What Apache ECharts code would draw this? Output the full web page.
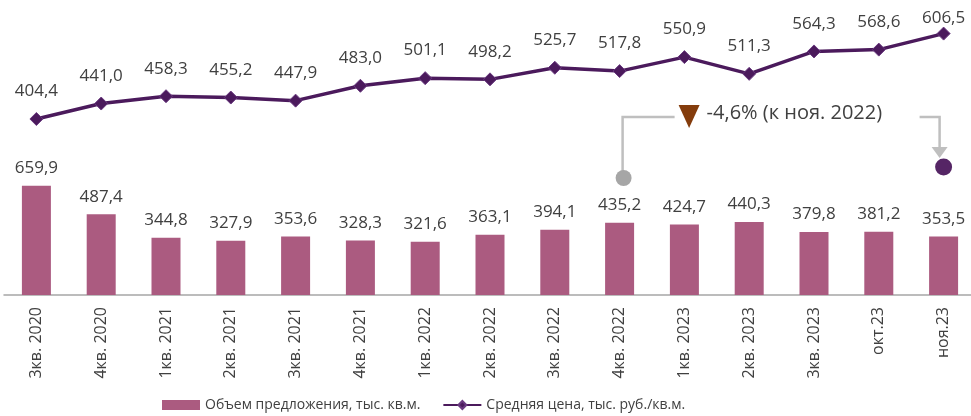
<!DOCTYPE html>
<html>
<head>
<meta charset="utf-8">
<script src="https://cdn.jsdelivr.net/npm/echarts@6/dist/echarts.min.js"></script>
<style>
  html, body { margin: 0; padding: 0; background: #ffffff; }
  #main { width: 971px; height: 416px; }
</style>
</head>
<body>
<div id="main"></div>
<script>
// категории
var categories = ['3кв. 2020', '4кв. 2020', '1кв. 2021', '2кв. 2021', '3кв. 2021', '4кв. 2021',
  '1кв. 2022', '2кв. 2022', '3кв. 2022', '4кв. 2022', '1кв. 2023', '2кв. 2023', '3кв. 2023', 'окт.23', 'ноя.23'];
// объем предложения, тыс. кв.м.
var supply = [659.9, 487.4, 344.8, 327.9, 353.6, 328.3, 321.6, 363.1, 394.1, 435.2, 424.7, 440.3, 379.8, 381.2, 353.5];
// средняя цена, тыс. руб./кв.м.
var price = [404.4, 441.0, 458.3, 455.2, 447.9, 483.0, 501.1, 498.2, 525.7, 517.8, 550.9, 511.3, 564.3, 568.6, 606.5];
var changeText = '-4,6% (к ноя. 2022)';
var fromIndex = 9;  // 4кв. 2022
var toIndex = 14;   // ноя.23

var fmt = function (p) {
  return p.value.toFixed(1).replace('.', ',');
};

// последняя точка - подпись ближе к маркеру, чтобы не обрезалась
var priceData = price.map(function (v, i) {
  if (i == price.length - 1) {
    return { value: v, label: { distance: 0 } };
  }
  return v;
});

var chart = echarts.init(document.getElementById('main'), null, { renderer: 'canvas' });

var option = {
  backgroundColor: '#ffffff',
  animation: false,
  textStyle: { fontFamily: 'Open Sans' },
  grid: {
    left: 4,
    top: 0,
    width: 972,
    height: 295,
    outerBoundsMode: 'none'
  },
  legend: {
    top: 393,
    left: 157,
    itemGap: 22,
    textStyle: { fontSize: 14, color: '#404040', fontFamily: 'Open Sans' },
    data: [
      { name: 'Объем предложения, тыс. кв.м.', icon: 'rect', itemStyle: { color: '#AB5B80' } },
      { name: 'Средняя цена, тыс. руб./кв.м.' }
    ],
    itemWidth: 38,
    itemHeight: 10
  },
  xAxis: {
    type: 'category',
    data: categories,
    axisLine: { lineStyle: { color: '#A6A6A6', width: 1.5 } },
    axisTick: { show: false },
    axisLabel: {
      rotate: 90,
      interval: 0,
      fontSize: 16,
      color: '#404040',
      margin: 12
    }
  },
  yAxis: [
    { type: 'value', min: 0, max: 1780, show: false, splitLine: { show: false } },
    { type: 'value', min: -12, max: 686, show: false, splitLine: { show: false } }
  ],
  series: [
    {
      name: 'Объем предложения, тыс. кв.м.',
      type: 'bar',
      data: supply,
      barWidth: 29,
      itemStyle: { color: '#AB5B80' },
      label: {
        show: true,
        position: 'top',
        distance: 9,
        fontSize: 17,
        color: '#404040',
        formatter: fmt
      }
    },
    {
      name: 'Средняя цена, тыс. руб./кв.м.',
      type: 'line',
      yAxisIndex: 1,
      data: priceData,
      symbol: 'diamond',
      symbolSize: 13,
      lineStyle: { color: '#4B1A5C', width: 3.5 },
      itemStyle: { color: '#4B1A5C', borderColor: '#6A3A80', borderWidth: 1 },
      label: {
        show: true,
        position: 'top',
        distance: 12,
        fontSize: 17,
        color: '#404040',
        formatter: fmt
      }
    }
  ]
};

chart.setOption(option);

// аннотация изменения цены
var x1 = chart.convertToPixel({ xAxisIndex: 0 }, fromIndex);
var x2 = chart.convertToPixel({ xAxisIndex: 0 }, toIndex);
var yLine = 117;
chart.setOption({
  graphic: [
    {
      type: 'polyline',
      shape: { points: [[x1 + 3, 176], [x1 + 3, yLine], [x1 + 55, yLine]] },
      style: { stroke: '#BFBFBF', lineWidth: 2.5, fill: null }
    },
    {
      type: 'circle',
      shape: { cx: x1 + 4, cy: 178, r: 8 },
      style: { fill: '#A6A6A6' }
    },
    {
      type: 'polygon',
      shape: { points: [[x1 + 59, 105], [x1 + 80, 105], [x1 + 69.5, 128]] },
      style: { fill: '#843C0C' }
    },
    {
      type: 'text',
      left: x1 + 87,
      top: 103,
      style: { text: changeText, fontSize: 20, fill: '#404040', fontFamily: 'Open Sans' }
    },
    {
      type: 'polyline',
      shape: { points: [[x2 - 24, yLine], [x2 - 4, yLine], [x2 - 4, 148]] },
      style: { stroke: '#BFBFBF', lineWidth: 2.5, fill: null }
    },
    {
      type: 'polygon',
      shape: { points: [[x2 - 12, 147], [x2 + 4, 147], [x2 - 4, 158]] },
      style: { fill: '#BFBFBF' }
    },
    {
      type: 'circle',
      shape: { cx: x2, cy: 167, r: 8.5 },
      style: { fill: '#552565' }
    }
  ]
});
</script>
</body>
</html>
